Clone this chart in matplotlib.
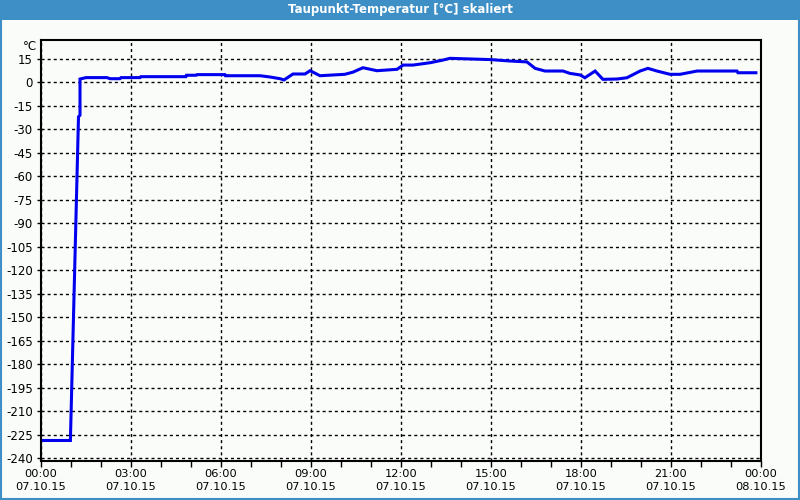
import matplotlib
matplotlib.use('Agg')
import matplotlib.pyplot as plt
from matplotlib.patches import Rectangle
from matplotlib.ticker import MultipleLocator

# Stunden seit 07.10.15 00:00 und Taupunkt in °C
hours = [0.0, 0.98, 1.25, 1.3, 1.3, 1.5, 2.2, 2.3, 2.63, 2.67, 3.3, 3.33, 4.83,
         4.85, 5.17, 5.2, 6.13, 6.15, 7.3, 7.63, 7.97, 8.1, 8.4, 8.8, 8.97,
         9.3, 10.13, 10.4, 10.73, 11.2, 11.87, 12.07, 12.4, 12.97, 13.4,
         13.63, 14.97, 15.63, 16.2, 16.47, 16.8, 17.4, 17.63, 17.97, 18.13,
         18.47, 18.73, 19.2, 19.53, 19.97, 20.23, 20.53, 20.97, 21.3, 21.87,
         23.2, 23.23, 23.83]
dewpoint = [-228.6, -228.6, -22.0, -21.0, 2.1, 3.0, 3.0, 2.3, 2.3, 3.0, 3.0,
            3.6, 3.6, 4.5, 4.5, 4.9, 4.9, 4.2, 4.2, 3.4, 2.3, 1.5, 5.3, 5.3,
            7.4, 4.2, 5.1, 6.5, 9.3, 7.4, 8.3, 11.0, 11.0, 12.5, 14.2, 15.3,
            14.5, 13.6, 13.0, 8.9, 7.2, 7.2, 5.7, 4.7, 2.9, 7.2, 1.9, 2.1,
            2.9, 7.2, 8.9, 7.2, 5.1, 5.1, 7.2, 7.2, 6.1, 6.1]

xtick_pos = [0, 3, 6, 9, 12, 15, 18, 21, 24]
xtick_labels = ['00:00\n07.10.15', '03:00\n07.10.15', '06:00\n07.10.15',
                '09:00\n07.10.15', '12:00\n07.10.15', '15:00\n07.10.15',
                '18:00\n07.10.15', '21:00\n07.10.15', '00:00\n08.10.15']
yticks = list(range(-240, 16, 15))

bg = '#fafcfa'
blue = '#3d8fc6'

fig = plt.figure(figsize=(8, 5), dpi=100, facecolor=bg)

# Titelleiste und Rahmen
fig.patches.append(Rectangle((0, 0.96), 1, 0.04, transform=fig.transFigure,
                             facecolor=blue, edgecolor='none', zorder=0))
fig.patches.append(Rectangle((0.001, 0.002), 0.998, 0.996, transform=fig.transFigure,
                             facecolor='none', edgecolor=blue, lw=1.5, zorder=1))
fig.text(0.5, 0.98, 'Taupunkt-Temperatur [°C] skaliert', color='white',
         ha='center', va='center', fontsize=8.5, fontweight='bold')

ax = fig.add_axes([0.05125, 0.078, 0.9, 0.842])
ax.set_facecolor(bg)
ax.plot(hours, dewpoint, color='#0000ee', lw=2.2, solid_joinstyle='miter')

ax.set_xlim(0, 24)
ax.set_ylim(-241.7, 27)
ax.set_xticks(xtick_pos)
ax.set_xticklabels(xtick_labels, fontsize=8.2, linespacing=1.35)
ax.xaxis.set_minor_locator(MultipleLocator(1))
ax.set_yticks(yticks)
ax.set_yticklabels([str(v) for v in yticks], fontsize=8.5)

ax.tick_params(axis='x', which='both', direction='out', length=4, width=1, pad=2)
ax.tick_params(axis='y', direction='out', length=3, width=1, pad=3)
ax.grid(True, color='black', linestyle=(0, (2.2, 2.2)), lw=1)
for s in ax.spines.values():
    s.set_linewidth(1.5)
    s.set_color('black')

ax.text(-0.005, 1.0, '°C', transform=ax.transAxes, ha='right', va='top', fontsize=8.5)

fig.savefig('out.png', dpi=100, facecolor=bg)
